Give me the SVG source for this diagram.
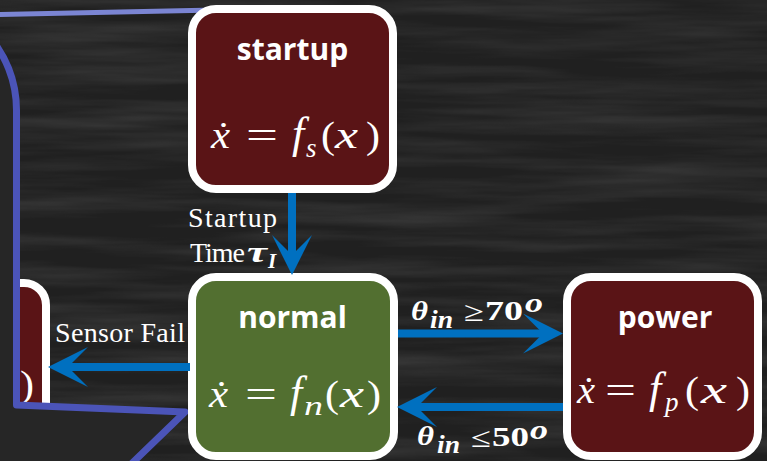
<svg xmlns="http://www.w3.org/2000/svg" width="767" height="461" viewBox="0 0 767 461">
<defs>
<style>
.node{stroke:#ffffff;stroke-width:8}
.red{fill:#5a1416}
.green{fill:#526f30}
.title{font-family:"Open Sans","Liberation Sans",sans-serif;font-weight:700;font-size:30px;fill:#ffffff;text-anchor:middle}
.m{font-family:"Liberation Serif","DejaVu Serif",serif;font-size:38px;fill:#ffffff}
.i{font-style:italic}
.f{font-size:44px;font-style:italic}
.sub{font-size:27px;font-style:italic}
.lbl{font-family:"Liberation Serif","DejaVu Serif",serif;font-size:28px;fill:#ffffff}
.b{font-family:"Liberation Serif","DejaVu Serif",serif;font-weight:700;fill:#ffffff}
.bi{font-family:"Liberation Serif","DejaVu Serif",serif;font-weight:700;font-style:italic;fill:#ffffff}
.conn{stroke:#0070c0;stroke-width:8;fill:none;marker-end:url(#ah)}
</style>
<marker id="ah" viewBox="0 -20 40 40" markerWidth="40" markerHeight="40" markerUnits="userSpaceOnUse" refX="22" refY="0" orient="auto">
<path d="M40,0 L0,-20 L20,0 L0,20 Z" fill="#0070c0"/>
</marker>
<filter id="chalk" x="0" y="0" width="100%" height="100%">
<feTurbulence type="fractalNoise" baseFrequency="0.004 0.06" numOctaves="4" seed="7"/>
<feColorMatrix type="matrix" values="0 0 0 0 1  0 0 0 0 1  0 0 0 0 1  0.2 0 0 0 -0.075"/>
</filter>
</defs>
<g id="background">
<rect x="0" y="0" width="767" height="461" fill="#202020"/>
<rect x="0" y="0" width="767" height="461" filter="url(#chalk)"/>
</g>
<g id="node-left">
<rect class="node red" x="-160" y="283" width="206" height="175" rx="22"/>
<text class="m" x="20" y="397" textLength="14" lengthAdjust="spacingAndGlyphs">)</text>
</g>
<g id="callout">
<line x1="-5" y1="14.6" x2="215" y2="10" stroke="#7b85d3" stroke-width="5"/>
<path d="M-400,-3 L-96.5,-3 A113,113 0 0 1 16.5,110 L16.5,405 L185,412 L94,500 L-400,500 Z" fill="#262626" stroke="#4b54b8" stroke-width="7" stroke-linejoin="round"/>
</g>
<g id="node-startup">
<rect class="node red" x="192" y="9" width="201" height="180" rx="24"/>
<text class="title" x="292.5" y="60">startup</text>
<text class="m i" x="211" y="148" textLength="19" lengthAdjust="spacingAndGlyphs">ẋ</text>
<text class="m" x="246" y="148" textLength="32" lengthAdjust="spacingAndGlyphs">=</text>
<text class="m f" x="292" y="148">f</text>
<text class="m sub" x="306" y="157">s</text>
<text class="m" x="321" y="148" textLength="14" lengthAdjust="spacingAndGlyphs">(</text>
<text class="m i" x="335" y="148" textLength="23" lengthAdjust="spacingAndGlyphs">x</text>
<text class="m" x="366" y="148" textLength="14" lengthAdjust="spacingAndGlyphs">)</text>
</g>
<g id="node-normal">
<rect class="node green" x="192" y="277" width="202" height="179" rx="24"/>
<text class="title" x="292.5" y="328">normal</text>
<text class="m i" x="209" y="407" textLength="19" lengthAdjust="spacingAndGlyphs">ẋ</text>
<text class="m" x="245" y="407" textLength="32" lengthAdjust="spacingAndGlyphs">=</text>
<text class="m f" x="290" y="407">f</text>
<text class="m sub" x="304" y="415" textLength="19" lengthAdjust="spacingAndGlyphs">n</text>
<text class="m" x="325" y="407" textLength="14" lengthAdjust="spacingAndGlyphs">(</text>
<text class="m i" x="340" y="407" textLength="24" lengthAdjust="spacingAndGlyphs">x</text>
<text class="m" x="367" y="407" textLength="14" lengthAdjust="spacingAndGlyphs">)</text>
</g>
<g id="node-power">
<rect class="node red" x="567" y="277" width="191" height="179" rx="24"/>
<text class="title" x="665" y="328">power</text>
<text class="m i" x="577" y="403" textLength="18" lengthAdjust="spacingAndGlyphs">ẋ</text>
<text class="m" x="605" y="403" textLength="31" lengthAdjust="spacingAndGlyphs">=</text>
<text class="m f" x="649" y="403">f</text>
<text class="m sub" x="665" y="411">p</text>
<text class="m" x="685" y="403" textLength="14" lengthAdjust="spacingAndGlyphs">(</text>
<text class="m i" x="701" y="403" textLength="26" lengthAdjust="spacingAndGlyphs">x</text>
<text class="m" x="736" y="403" textLength="14" lengthAdjust="spacingAndGlyphs">)</text>
</g>
<g id="connectors">
<line class="conn" x1="292" y1="193" x2="292" y2="257"/>
<line class="conn" x1="398" y1="333.5" x2="545" y2="333.5"/>
<line class="conn" x1="563" y1="407" x2="415" y2="407"/>
<line class="conn" x1="190" y1="367" x2="66" y2="367"/>
<text class="lbl" x="188" y="227" textLength="89">Startup</text>
<text class="lbl" x="190" y="262" textLength="55">Time</text>
<text class="bi" font-size="30" x="247" y="262" textLength="20" lengthAdjust="spacingAndGlyphs">τ</text>
<text class="bi" font-size="21" x="268" y="268">I</text>
<text class="lbl" x="55" y="342" textLength="130">Sensor Fail</text>
<text class="bi" font-size="28" x="411" y="320" textLength="17" lengthAdjust="spacingAndGlyphs">θ</text>
<text class="bi" font-size="25" x="430" y="328" textLength="23" lengthAdjust="spacingAndGlyphs">in</text>
<text class="lbl" font-size="38" x="464" y="321" textLength="20" lengthAdjust="spacingAndGlyphs">≥</text>
<text class="b" font-size="28" x="485" y="320" textLength="38" lengthAdjust="spacingAndGlyphs">70</text>
<text class="bi" font-size="27" x="525" y="312" textLength="18" lengthAdjust="spacingAndGlyphs">o</text>
<text class="bi" font-size="28" x="417" y="445" textLength="17" lengthAdjust="spacingAndGlyphs">θ</text>
<text class="bi" font-size="25" x="437" y="453" textLength="23" lengthAdjust="spacingAndGlyphs">in</text>
<text class="lbl" font-size="38" x="471" y="447" textLength="20" lengthAdjust="spacingAndGlyphs">≤</text>
<text class="b" font-size="28" x="492" y="446" textLength="37" lengthAdjust="spacingAndGlyphs">50</text>
<text class="bi" font-size="27" x="530" y="439" textLength="18" lengthAdjust="spacingAndGlyphs">o</text>
</g>
</svg>
